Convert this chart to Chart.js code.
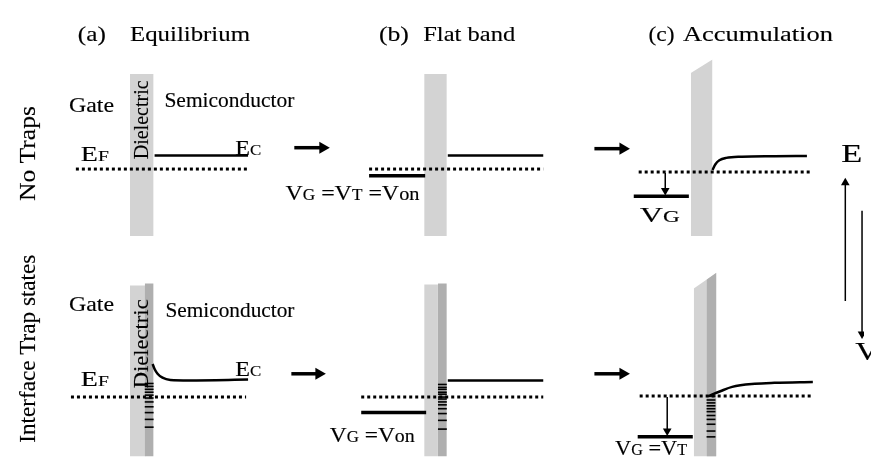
<!DOCTYPE html>
<html>
<head>
<meta charset="utf-8">
<script src="https://cdn.jsdelivr.net/npm/chart.js@4.4.0/dist/chart.umd.min.js"></script>
<style>html,body{margin:0;padding:0;background:#fff}canvas{display:block}</style>
</head>
<body>
<canvas id="myChart1" width="871" height="472"></canvas>
<script>
// band diagrams, no traps (top) vs interface trap states (bottom)
var panelTags = ['(a)', '(b)', '(c)'];
var panelTitles = ['Equilibrium', 'Flat band', 'Accumulation'];
var rowLabels = ['No Traps', 'Interface Trap states'];

// top row: dielectric bars (top edge), Ec, EF (dotted), gate level
var barTop = [
    [[125, 69], [149, 69]],
    [[424, 69], [447, 69]],
    [[695, 68], [717, 54]]
];
var ecTop = [
    [[150, 153], [245, 153]],
    [[448, 153], [545, 153]],
    [[717, 168], [720, 162], [724, 158], [731, 155.5], [747, 154.3], [780, 153.8], [813, 153.5]]
];
var efTop = [
    [[70, 167], [245, 167]],
    [[368, 167], [545, 167]],
    [[642, 170], [817, 170]]
];
var gateTop = [
    [[368, 174], [425, 174]],
    [[637, 195], [693, 195]]
];

// bottom row
var barBot = [
    [[125, 287], [141, 287]],
    [[424, 286], [438, 286]],
    [[698, 290], [721, 274]]
];
var stripBot = [
    [[140, 285], [149, 285]],
    [[438, 285], [447, 285]],
    [[711, 281], [721, 274]]
];
var ecBot = [
    [[148, 368], [150, 373], [153, 378], [158, 382], [166, 384.3], [185, 384.8], [245, 384]],
    [[448, 385], [545, 385]],
    [[713, 401], [725, 396], [737, 391.5], [760, 388.3], [780, 387.3], [819, 386.5]]
];
var efBot = [
    [[65, 402], [243, 402]],
    [[360, 402], [545, 402]],
    [[643, 401], [819, 401]]
];
var gateBot = [
    [[360, 418], [426, 418]],
    [[641, 443], [697, 443]]
];
// interface trap levels
var trapX = [[140, 149], [438, 447], [711, 720]];
var trapY = [
    [388, 391, 394, 397, 400, 403, 407, 412, 418, 425, 433],
    [389, 392, 394, 397, 399, 402, 404, 407, 410, 414, 419, 426, 435],
    [401, 405, 408, 411, 414, 417, 421, 425, 430, 437, 443]
];

// arrows: from, to
var stepArrows = [
    [[292, 145], [328, 145]], [[597, 146], [633, 146]],
    [[289, 378], [324, 378]], [[597, 378], [633, 378]]
];
var gateArrows = [[[669, 171], [669, 194]], [[671, 402], [671, 442]]];
var axisArrows = [[[852, 303], [852, 176]], [[869, 210], [869, 342]]];

var lightGrey = '#d3d3d3';
var darkGrey = '#afafaf';

function pts(a) {
    return a.map(function (p) { return {x: p[0], y: p[1]}; });
}
function bar(top, bottom, color, order) {
    return {data: pts(top), showLine: true, borderWidth: 0, pointRadius: 0,
        fill: {value: bottom}, backgroundColor: color, borderColor: color, order: order};
}
function line(p, w, dash, smooth) {
    return {data: pts(p), showLine: true, borderColor: '#000', borderWidth: w,
        borderDash: dash || [], pointRadius: 0, fill: false, order: 0,
        cubicInterpolationMode: smooth ? 'monotone' : 'default', borderCapStyle: 'butt'};
}
function arrow(a, w, head) {
    var dx = a[1][0] - a[0][0], dy = a[1][1] - a[0][1];
    var len = Math.sqrt(dx * dx + dy * dy);
    var c = [a[1][0] - dx / len * head, a[1][1] - dy / len * head];
    var ds = line([a[0], c], w);
    ds.pointRadius = [0, head];
    ds.pointStyle = 'triangle';
    ds.pointRotation = Math.atan2(dx, -dy) * 180 / Math.PI;
    ds.pointBackgroundColor = '#000';
    ds.pointBorderColor = '#000';
    ds.pointBorderWidth = 0;
    return ds;
}

var datasets = [];
barTop.forEach(function (b) { datasets.push(bar(b, 236, lightGrey, 11)); });
barBot.forEach(function (b) { datasets.push(bar(b, 463, lightGrey, 11)); });
stripBot.forEach(function (b) { datasets.push(bar(b, 463, darkGrey, 10)); });
ecTop.concat(ecBot).forEach(function (p) { datasets.push(line(p, 2.5, null, p.length > 2)); });
efTop.concat(efBot).forEach(function (p) { datasets.push(line(p, 3, [3, 3])); });
gateTop.concat(gateBot).forEach(function (p) { datasets.push(line(p, 3.5)); });
trapY.forEach(function (ys, i) {
    ys.forEach(function (y) { datasets.push(line([[trapX[i][0], y], [trapX[i][1], y]], 1.6)); });
});
stepArrows.forEach(function (a) { datasets.push(arrow(a, 3.5, 7)); });
gateArrows.forEach(function (a) { datasets.push(arrow(a, 1.5, 5)); });
axisArrows.forEach(function (a) { datasets.push(arrow(a, 1.5, 5)); });

// text: pieces [text, size factor], left x, baseline y, width, font size, rotated
var texts = [
    {t: [[panelTags[0], 1]], x: 72, y: 35, w: 28, s: 22},
    {t: [[panelTitles[0], 1]], x: 125, y: 35, w: 120, s: 22},
    {t: [[panelTags[1], 1]], x: 378, y: 35, w: 30, s: 22},
    {t: [[panelTitles[1], 1]], x: 423, y: 35, w: 92, s: 22},
    {t: [[panelTags[2], 1]], x: 652, y: 35, w: 26, s: 22},
    {t: [[panelTitles[2], 1]], x: 687, y: 35, w: 150, s: 22},
    {t: [[rowLabels[0], 1]], x: 28, y: 200, w: 95, s: 23, r: true},
    {t: [[rowLabels[1], 1]], x: 28, y: 449, w: 188, s: 23, r: true},
    {t: [['Gate', 1]], x: 63, y: 108, w: 45, s: 22},
    {t: [['Semiconductor', 1]], x: 160, y: 103, w: 130, s: 20},
    {t: [['Dielectric', 1]], x: 143, y: 157, w: 79, s: 21, r: true},
    {t: [['E', 1], ['F', 0.7]], x: 75, y: 159, w: 28, s: 22},
    {t: [['E', 1], ['C', 0.7]], x: 232, y: 153, w: 26, s: 22},
    {t: [['V', 1], ['G', 0.72], [' =', 1], ['V', 1], ['T', 0.72], [' =', 1], ['V', 1], ['on', 0.85]], x: 283, y: 199, w: 134, s: 22},
    {t: [['V', 1], ['G', 0.72]], x: 643, y: 222, w: 40, s: 22},
    {t: [['E', 1]], x: 848, y: 160, w: 21, s: 25},
    {t: [['V', 1]], x: 862, y: 364, w: 24, s: 25},
    {t: [['Gate', 1]], x: 63, y: 313, w: 45, s: 22},
    {t: [['Semiconductor', 1]], x: 161, y: 319, w: 129, s: 20},
    {t: [['Dielectric', 1]], x: 143, y: 393, w: 89, s: 22, r: true},
    {t: [['E', 1], ['F', 0.7]], x: 75, y: 391, w: 28, s: 22},
    {t: [['E', 1], ['C', 0.7]], x: 232, y: 380, w: 26, s: 22},
    {t: [['V', 1], ['G', 0.72], [' =', 1], ['V', 1], ['on', 0.85]], x: 328, y: 448, w: 85, s: 22},
    {t: [['V', 1], ['G', 0.72], [' =', 1], ['V', 1], ['T', 0.72]], x: 618, y: 462, w: 72, s: 22}
];

var textPlugin = {
    id: 'bandText',
    afterDatasetsDraw: function (chart) {
        var ctx = chart.ctx, sx = chart.scales.x, sy = chart.scales.y;
        texts.forEach(function (l) {
            var total = 0;
            l.t.forEach(function (p) {
                ctx.font = (l.s * p[1]) + 'px "Liberation Serif", "Times New Roman", serif';
                total += ctx.measureText(p[0]).width;
            });
            var k = l.w / total;
            ctx.save();
            ctx.translate(sx.getPixelForValue(l.x), sy.getPixelForValue(l.y));
            if (l.r) ctx.rotate(-Math.PI / 2);
            ctx.scale(k, 1);
            ctx.fillStyle = '#000';
            ctx.strokeStyle = '#000';
            ctx.lineWidth = 0.15;
            ctx.textBaseline = 'alphabetic';
            ctx.textAlign = 'left';
            var cx = 0;
            l.t.forEach(function (p) {
                ctx.font = (l.s * p[1]) + 'px "Liberation Serif", "Times New Roman", serif';
                ctx.fillText(p[0], cx, 0);
                ctx.strokeText(p[0], cx, 0);
                cx += ctx.measureText(p[0]).width;
            });
            ctx.restore();
        });
    }
};

var ctx1 = document.getElementById('myChart1').getContext('2d');
var myChart1 = new Chart(ctx1, {
    type: 'scatter',
    data: {datasets: datasets},
    options: {
        responsive: false,
        animation: false,
        events: [],
        devicePixelRatio: 1,
        layout: {padding: 0},
        plugins: {legend: {display: false}, tooltip: {enabled: false}},
        scales: {
            x: {type: 'linear', min: 0, max: 871, display: false},
            y: {type: 'linear', min: 0, max: 472, reverse: true, display: false}
        }
    },
    plugins: [textPlugin]
});
</script>
</body>
</html>
